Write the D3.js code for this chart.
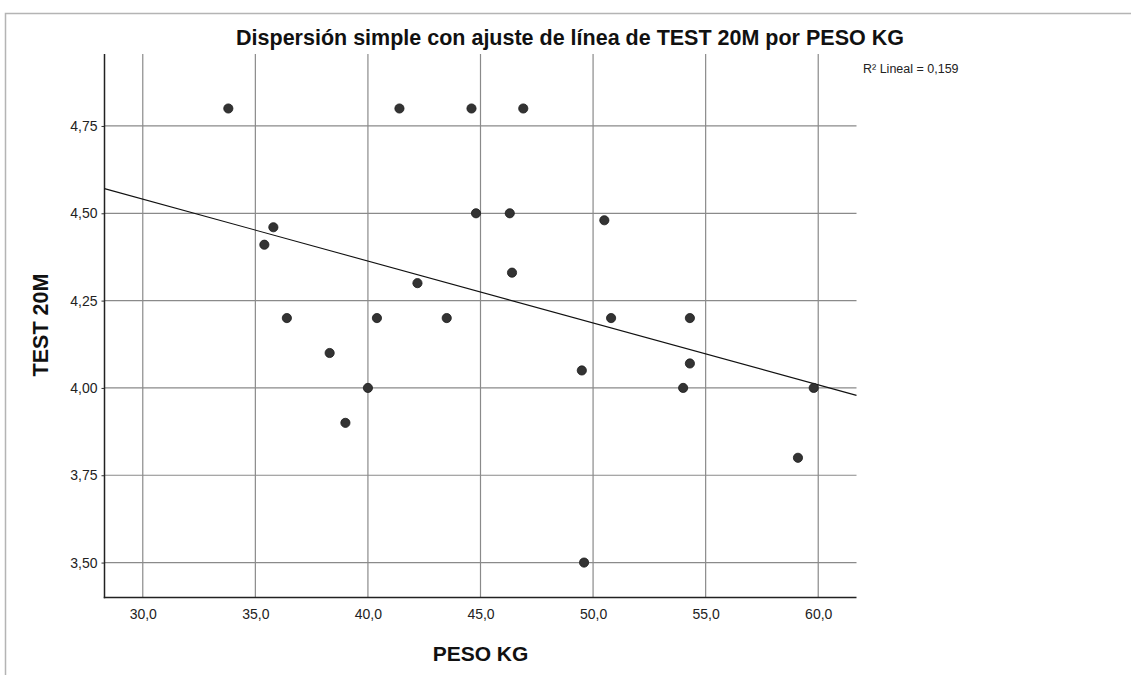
<!DOCTYPE html>
<html>
<head>
<meta charset="utf-8">
<script src="https://cdn.jsdelivr.net/npm/d3@7"></script>
<style>
  body { margin: 0; background: #fff; }
  svg { display: block; font-family: "Liberation Sans", Arial, sans-serif; }
</style>
</head>
<body>
<svg></svg>
<script>
//Values
const peso = [33.8, 41.4, 44.6, 46.9, 44.8, 46.3, 35.8, 35.4, 46.4, 42.2, 36.4, 40.4, 43.5, 50.8, 54.3, 49.5, 54.3, 54.0, 59.8, 59.1, 50.5, 38.3, 40.0, 39.0, 49.6];
const test20m = [4.80, 4.80, 4.80, 4.80, 4.50, 4.50, 4.46, 4.41, 4.33, 4.30, 4.20, 4.20, 4.20, 4.20, 4.20, 4.05, 4.07, 4.00, 4.00, 3.80, 4.48, 4.10, 4.00, 3.90, 3.50];
const xTicks = [30, 35, 40, 45, 50, 55, 60];
const yTicks = [3.50, 3.75, 4.00, 4.25, 4.50, 4.75];
//Linear fit: intercept, slope
const fit = [5.072, -0.01772];
const r2Text = "R² Lineal = 0,159";

const width = 1131;
const height = 675;
const pLeft = 104.5, pRight = 856.5, pTop = 54, pBottom = 597.5;
const svg = d3.select("svg").attr("width", width).attr("height", height);

//Outer frame
svg.append("path").attr("d", `M5.5,${height} V13.5 H${width}`).attr("fill", "none").attr("stroke", "#b4b4b4").attr("stroke-width", 1.5);

const xScale = d3.scaleLinear().domain([28.3, 61.7]).range([pLeft, pRight]);
const yScale = d3.scaleLinear().domain([3.4, 4.956]).range([pBottom, pTop]);
const comma = d => d.toFixed(1).replace(".", ",");
const comma2 = d => d.toFixed(2).replace(".", ",");

//Grid lines
svg.append("g").selectAll("line").data(xTicks).enter().append("line")
  .attr("x1", d => xScale(d)).attr("x2", d => xScale(d)).attr("y1", pTop).attr("y2", pBottom)
  .attr("stroke", "#8a8a8a").attr("stroke-width", 1.2);
svg.append("g").selectAll("line").data(yTicks).enter().append("line")
  .attr("x1", pLeft).attr("x2", pRight).attr("y1", d => yScale(d)).attr("y2", d => yScale(d))
  .attr("stroke", "#8a8a8a").attr("stroke-width", 1.2);

//Axes
const xAxis = d3.axisBottom(xScale).tickValues(xTicks).tickFormat(comma).tickSize(0).tickPadding(12);
const yAxis = d3.axisLeft(yScale).tickValues(yTicks).tickFormat(comma2).tickSize(3).tickPadding(4);
const gx = svg.append("g").attr("transform", `translate(0, ${pBottom})`).call(xAxis);
const gy = svg.append("g").attr("transform", `translate(${pLeft}, 0)`).call(yAxis);
[gx, gy].forEach(g => {
  g.select(".domain").remove();
  g.selectAll("text").attr("font-family", "Liberation Sans, Arial, sans-serif").attr("font-size", 14).attr("fill", "#222");
  g.selectAll("line").attr("stroke", "#333");
});
svg.append("line").attr("x1", pLeft).attr("x2", pLeft).attr("y1", pTop).attr("y2", pBottom + 0.75).attr("stroke", "#222").attr("stroke-width", 1.5);
svg.append("line").attr("x1", pLeft - 0.75).attr("x2", pRight).attr("y1", pBottom).attr("y2", pBottom).attr("stroke", "#222").attr("stroke-width", 1.5);

//Fit line
svg.append("line")
  .attr("x1", xScale(28.3)).attr("y1", yScale(fit[0] + fit[1] * 28.3))
  .attr("x2", xScale(61.7)).attr("y2", yScale(fit[0] + fit[1] * 61.7))
  .attr("stroke", "#111").attr("stroke-width", 1.1);

//Points
svg.append("g").selectAll("circle").data(peso).enter().append("circle")
  .attr("cx", d => xScale(d)).attr("cy", (d, i) => yScale(test20m[i]))
  .attr("r", 4.6).attr("fill", "#333").attr("stroke", "#1a1a1a").attr("stroke-width", 0.8);

//Texts
svg.append("text").text("Dispersión simple con ajuste de línea de TEST 20M por PESO KG")
  .attr("x", 570).attr("y", 45).attr("text-anchor", "middle").attr("font-size", 21.5).attr("font-weight", "bold").attr("fill", "#111");
svg.append("text").text(r2Text).attr("x", 863).attr("y", 73).attr("font-size", 12.5).attr("fill", "#222");
svg.append("text").text("PESO KG").attr("x", (pLeft + pRight) / 2).attr("y", 661)
  .attr("text-anchor", "middle").attr("font-size", 21).attr("font-weight", "bold").attr("fill", "#111");
svg.append("text").text("TEST 20M").attr("transform", "translate(48, 325) rotate(-90)")
  .attr("text-anchor", "middle").attr("font-size", 21.5).attr("font-weight", "bold").attr("fill", "#111");
</script>
</body>
</html>
